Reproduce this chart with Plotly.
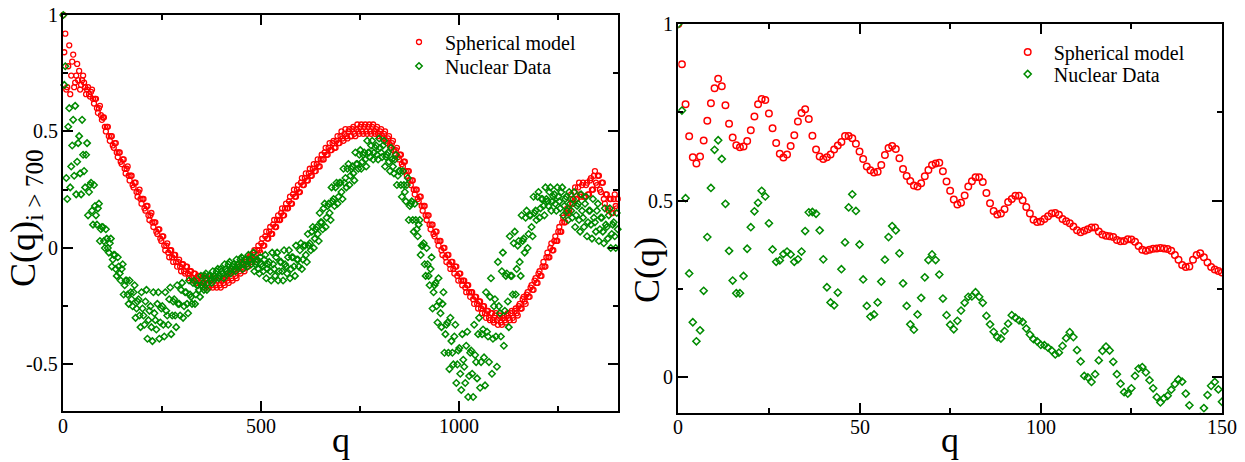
import plotly.graph_objects as go

# ---------------- left panel: C(q) for i > 700 ----------------
# samples on q = 0, 5, ..., 1400 and on the half-way points q = 2.5, 7.5, ..., 1397.5
q_left = list(range(0, 1401, 5))
q_left_mid = [2.5 + 5 * k for k in range(280)]

spherical_left = [
    1.00,
    0.92, 0.69, 0.87, 0.74, 0.83, 0.71, 0.79, 0.76, 0.70, 0.74, 0.69, 0.68,
    0.66, 0.67, 0.64, 0.64, 0.60, 0.60, 0.57, 0.56,
    0.52, 0.52, 0.48, 0.48, 0.44, 0.45, 0.41, 0.41, 0.37, 0.38,
    0.34, 0.34, 0.31, 0.31, 0.27, 0.28, 0.24, 0.24, 0.21, 0.21,
    0.17, 0.18, 0.14, 0.14, 0.11, 0.11, 0.07, 0.08, 0.04, 0.05,
    0.01, 0.01, -0.02, -0.01, -0.04, -0.03, -0.06, -0.06, -0.08, -0.07,
    -0.10, -0.08, -0.11, -0.10, -0.13, -0.11, -0.14, -0.12, -0.15, -0.13,
    -0.15, -0.14, -0.16, -0.14, -0.16, -0.14, -0.16, -0.14, -0.16, -0.14,
    -0.15, -0.13, -0.14, -0.11, -0.13, -0.10, -0.12, -0.09, -0.10, -0.07,
    -0.09, -0.06, -0.07, -0.04, -0.05, -0.02, -0.04, -0.01, -0.01, 0.02,
    0.01, 0.05, 0.04, 0.07, 0.06, 0.10, 0.09, 0.12, 0.12, 0.15,
    0.14, 0.17, 0.17, 0.20, 0.19, 0.23, 0.22, 0.25, 0.24, 0.28,
    0.27, 0.30, 0.29, 0.32, 0.31, 0.34, 0.33, 0.36, 0.35, 0.38,
    0.38, 0.41, 0.40, 0.43, 0.42, 0.45, 0.43, 0.46, 0.45, 0.48,
    0.47, 0.49, 0.48, 0.50, 0.48, 0.51, 0.49, 0.51, 0.50, 0.52,
    0.50, 0.52, 0.50, 0.52, 0.50, 0.52, 0.50, 0.51, 0.49, 0.50,
    0.48, 0.49, 0.46, 0.47, 0.44, 0.45, 0.42, 0.42, 0.39, 0.40,
    0.36, 0.37, 0.33, 0.33, 0.29, 0.29, 0.25, 0.25, 0.21, 0.22,
    0.18, 0.18, 0.14, 0.14, 0.10, 0.10, 0.06, 0.07, 0.03, 0.03,
    -0.01, 0.00, -0.04, -0.03, -0.07, -0.06, -0.09, -0.08, -0.12, -0.11,
    -0.14, -0.14, -0.17, -0.16, -0.19, -0.19, -0.22, -0.21, -0.24, -0.23,
    -0.26, -0.25, -0.28, -0.27, -0.30, -0.28, -0.31, -0.29, -0.31, -0.30,
    -0.32, -0.30, -0.31, -0.29, -0.30, -0.28, -0.30, -0.27, -0.28, -0.25,
    -0.26, -0.22, -0.23, -0.20, -0.21, -0.17, -0.18, -0.14, -0.15, -0.11,
    -0.12, -0.08, -0.08, -0.04, -0.04, 0.00, -0.01, 0.03, 0.03, 0.07,
    0.07, 0.11, 0.11, 0.15, 0.15, 0.21, 0.19, 0.24, 0.21, 0.26,
    0.23, 0.27, 0.22, 0.27, 0.23, 0.29, 0.25, 0.31, 0.28, 0.31,
    0.25, 0.28, 0.21, 0.23, 0.17, 0.21, 0.15, 0.21, 0.18, 0.21,
]

spherical_left_mid = [
    0.84, 0.68, 0.78, 0.66, 0.80, 0.69, 0.74, 0.72, 0.68, 0.72, 0.71, 0.66,
    0.69, 0.65, 0.68, 0.62, 0.64, 0.58, 0.61, 0.55,
    0.56, 0.50, 0.52, 0.46, 0.48, 0.43, 0.45, 0.39, 0.41, 0.36,
    0.38, 0.32, 0.35, 0.29, 0.31, 0.26, 0.28, 0.22, 0.25, 0.19,
    0.21, 0.16, 0.18, 0.12, 0.15, 0.09, 0.11, 0.06, 0.08, 0.03,
    0.05, -0.01, 0.02, -0.04, -0.01, -0.06, -0.03, -0.08, -0.05, -0.10,
    -0.07, -0.11, -0.08, -0.13, -0.10, -0.14, -0.11, -0.15, -0.12, -0.16,
    -0.12, -0.17, -0.13, -0.17, -0.13, -0.17, -0.13, -0.17, -0.13, -0.17,
    -0.13, -0.16, -0.12, -0.15, -0.10, -0.14, -0.09, -0.13, -0.08, -0.11,
    -0.06, -0.10, -0.05, -0.08, -0.03, -0.06, -0.01, -0.05, 0.01, -0.02,
    0.04, 0.01, 0.07, 0.04, 0.09, 0.06, 0.12, 0.09, 0.14, 0.12,
    0.17, 0.14, 0.19, 0.17, 0.22, 0.19, 0.25, 0.22, 0.27, 0.24,
    0.30, 0.27, 0.32, 0.29, 0.34, 0.31, 0.36, 0.33, 0.38, 0.35,
    0.40, 0.38, 0.43, 0.40, 0.45, 0.42, 0.46, 0.43, 0.48, 0.45,
    0.50, 0.46, 0.51, 0.47, 0.51, 0.48, 0.52, 0.48, 0.53, 0.49,
    0.53, 0.49, 0.53, 0.49, 0.53, 0.49, 0.53, 0.49, 0.52, 0.48,
    0.51, 0.47, 0.50, 0.45, 0.48, 0.43, 0.46, 0.40, 0.43, 0.38,
    0.40, 0.35, 0.37, 0.31, 0.33, 0.27, 0.29, 0.23, 0.25, 0.20,
    0.22, 0.16, 0.18, 0.12, 0.14, 0.08, 0.10, 0.05, 0.07, 0.01,
    0.03, -0.03, 0.00, -0.06, -0.03, -0.09, -0.06, -0.11, -0.08, -0.14,
    -0.11, -0.16, -0.14, -0.19, -0.16, -0.21, -0.19, -0.24, -0.21, -0.26,
    -0.23, -0.28, -0.25, -0.30, -0.27, -0.31, -0.28, -0.32, -0.28, -0.33,
    -0.29, -0.33, -0.29, -0.32, -0.28, -0.31, -0.27, -0.31, -0.26, -0.29,
    -0.24, -0.26, -0.21, -0.24, -0.19, -0.21, -0.16, -0.18, -0.13, -0.15,
    -0.10, -0.12, -0.06, -0.08, -0.02, -0.04, 0.02, -0.01, 0.05, 0.03,
    0.09, 0.07, 0.13, 0.11, 0.17, 0.16, 0.23, 0.19, 0.26, 0.21,
    0.28, 0.22, 0.28, 0.22, 0.28, 0.23, 0.30, 0.25, 0.33, 0.27,
    0.31, 0.24, 0.28, 0.19, 0.23, 0.16, 0.21, 0.15, 0.23, 0.17,
]

nuclear_left = [
    1.00,
    0.78, 0.21, 0.60, 0.35, 0.55, 0.61, 0.37, 0.48, 0.23, 0.40, 0.26, 0.45,
    0.24, 0.28, 0.10, 0.18, 0.10, 0.19, 0.08, 0.09,
    0.00, 0.04, -0.02, 0.04, -0.05, -0.03, -0.12, -0.08, -0.14, -0.07,
    -0.16, -0.14, -0.24, -0.19, -0.25, -0.16, -0.26, -0.22, -0.34, -0.26,
    -0.33, -0.18, -0.31, -0.25, -0.40, -0.28, -0.35, -0.19, -0.32, -0.25,
    -0.38, -0.27, -0.33, -0.17, -0.29, -0.22, -0.34, -0.24, -0.29, -0.15,
    -0.25, -0.19, -0.28, -0.20, -0.24, -0.14, -0.20, -0.16, -0.21, -0.16,
    -0.18, -0.11, -0.15, -0.12, -0.15, -0.12, -0.13, -0.09, -0.12, -0.10,
    -0.13, -0.09, -0.11, -0.06, -0.09, -0.07, -0.10, -0.07, -0.08, -0.04,
    -0.07, -0.05, -0.08, -0.05, -0.07, -0.02, -0.07, -0.05, -0.11, -0.07,
    -0.10, -0.03, -0.09, -0.06, -0.14, -0.07, -0.12, -0.02, -0.10, -0.06,
    -0.14, -0.07, -0.11, -0.01, -0.09, -0.04, -0.12, -0.05, -0.08, 0.02,
    -0.05, 0.01, -0.06, 0.01, -0.01, 0.09, 0.04, 0.09, 0.03, 0.11,
    0.08, 0.19, 0.13, 0.19, 0.12, 0.20, 0.18, 0.28, 0.22, 0.28,
    0.21, 0.28, 0.26, 0.36, 0.31, 0.35, 0.29, 0.36, 0.34, 0.42,
    0.37, 0.41, 0.35, 0.41, 0.39, 0.46, 0.41, 0.44, 0.38, 0.43,
    0.39, 0.46, 0.39, 0.41, 0.33, 0.38, 0.32, 0.40, 0.31, 0.33,
    0.22, 0.27, 0.20, 0.30, 0.18, 0.20, 0.07, 0.12, 0.05, 0.12,
    0.01, 0.02, -0.12, -0.07, -0.16, -0.04, -0.19, -0.15, -0.32, -0.23,
    -0.34, -0.19, -0.37, -0.32, -0.52, -0.40, -0.50, -0.33, -0.50, -0.43,
    -0.61, -0.48, -0.58, -0.36, -0.55, -0.44, -0.64, -0.46, -0.56, -0.30,
    -0.49, -0.35, -0.59, -0.36, -0.49, -0.13, -0.39, -0.22, -0.51, -0.25,
    -0.38, -0.02, -0.27, -0.11, -0.34, -0.12, -0.20, 0.07, -0.09, 0.03,
    -0.12, 0.03, -0.02, 0.16, 0.06, 0.14, 0.05, 0.15, 0.12, 0.24,
    0.17, 0.21, 0.14, 0.21, 0.18, 0.26, 0.20, 0.23, 0.16, 0.22,
    0.17, 0.26, 0.18, 0.22, 0.12, 0.19, 0.13, 0.24, 0.14, 0.19,
    0.07, 0.16, 0.09, 0.22, 0.11, 0.16, 0.04, 0.13, 0.07, 0.19,
    0.08, 0.13, 0.02, 0.10, 0.04, 0.17, 0.06, 0.11, 0.00, 0.08,
]

nuclear_left_mid = [
    0.70, 0.30, 0.52, 0.26, 0.44,
    0.31, 0.23, 0.45, 0.32, 0.55,
    0.33, 0.40, 0.14, 0.27, 0.16,
    0.27, 0.14, 0.17, 0.03, 0.09,
    0.03, 0.08, 0.00, 0.02, -0.08,
    -0.03, -0.09, -0.04, -0.11, -0.09,
    -0.20, -0.14, -0.20, -0.14, -0.22,
    -0.19, -0.30, -0.23, -0.29, -0.19,
    -0.29, -0.23, -0.39, -0.27, -0.34,
    -0.19, -0.31, -0.24, -0.39, -0.26,
    -0.33, -0.19, -0.29, -0.22, -0.37,
    -0.23, -0.29, -0.16, -0.24, -0.18,
    -0.30, -0.19, -0.24, -0.14, -0.21,
    -0.15, -0.24, -0.16, -0.18, -0.12,
    -0.15, -0.12, -0.18, -0.12, -0.14,
    -0.10, -0.12, -0.10, -0.13, -0.09,
    -0.11, -0.07, -0.10, -0.07, -0.11,
    -0.08, -0.09, -0.05, -0.07, -0.05,
    -0.09, -0.05, -0.07, -0.03, -0.05,
    -0.04, -0.10, -0.06, -0.09, -0.04,
    -0.08, -0.05, -0.13, -0.07, -0.10,
    -0.02, -0.09, -0.04, -0.14, -0.06,
    -0.10, -0.01, -0.08, -0.04, -0.13,
    -0.04, -0.08, 0.01, -0.05, -0.01,
    -0.09, 0.01, -0.03, 0.06, 0.02,
    0.07, 0.00, 0.08, 0.06, 0.15,
    0.11, 0.17, 0.09, 0.18, 0.15,
    0.26, 0.21, 0.26, 0.19, 0.28,
    0.24, 0.34, 0.30, 0.34, 0.27,
    0.34, 0.32, 0.41, 0.36, 0.40,
    0.34, 0.40, 0.38, 0.46, 0.41,
    0.44, 0.38, 0.43, 0.40, 0.47,
    0.41, 0.44, 0.35, 0.40, 0.37,
    0.43, 0.35, 0.38, 0.27, 0.33,
    0.27, 0.33, 0.24, 0.27, 0.12,
    0.19, 0.12, 0.19, 0.08, 0.10,
    -0.03, 0.01, -0.07, 0.00, -0.12,
    -0.09, -0.26, -0.16, -0.25, -0.13,
    -0.28, -0.24, -0.45, -0.33, -0.45,
    -0.30, -0.45, -0.38, -0.58, -0.44,
    -0.54, -0.37, -0.51, -0.42, -0.64,
    -0.45, -0.54, -0.33, -0.49, -0.37,
    -0.60, -0.37, -0.47, -0.19, -0.38,
    -0.21, -0.54, -0.25, -0.38, -0.06,
    -0.28, -0.10, -0.42, -0.12, -0.23,
    0.05, -0.12, 0.02, -0.20, 0.01,
    -0.06, 0.14, 0.04, 0.13, 0.00,
    0.14, 0.09, 0.22, 0.16, 0.22,
    0.13, 0.21, 0.18, 0.26, 0.20,
    0.24, 0.16, 0.22, 0.19, 0.26,
    0.20, 0.24, 0.14, 0.21, 0.16,
    0.24, 0.16, 0.21, 0.09, 0.18,
    0.12, 0.23, 0.13, 0.19, 0.05,
    0.16, 0.10, 0.21, 0.11, 0.16,
    0.03, 0.13, 0.07, 0.17, 0.09,
    0.14, 0.00, 0.10, 0.05, 0.15,
]

# ---------------- right panel: C(q) for q = 0..150 ----------------
q_right = list(range(0, 151))

spherical_right = [
    1.000,
    0.886, 0.773, 0.682, 0.623, 0.605, 0.625, 0.670, 0.726, 0.776, 0.818,
    0.845, 0.824, 0.770, 0.718, 0.679, 0.657, 0.651, 0.653, 0.669, 0.699,
    0.738, 0.773, 0.788, 0.785, 0.747, 0.705, 0.663, 0.633, 0.622, 0.631,
    0.655, 0.685, 0.724, 0.748, 0.759, 0.731, 0.684, 0.645, 0.625, 0.618,
    0.623, 0.631, 0.645, 0.656, 0.666, 0.683, 0.683, 0.677, 0.661, 0.639,
    0.618, 0.597, 0.586, 0.580, 0.582, 0.601, 0.629, 0.649, 0.655, 0.646,
    0.620, 0.590, 0.570, 0.556, 0.543, 0.540, 0.549, 0.569, 0.587, 0.601,
    0.605, 0.607, 0.583, 0.554, 0.528, 0.503, 0.489, 0.494, 0.515, 0.540,
    0.555, 0.566, 0.566, 0.553, 0.522, 0.493, 0.471, 0.461, 0.464, 0.476,
    0.496, 0.505, 0.514, 0.514, 0.501, 0.482, 0.464, 0.446, 0.440, 0.441,
    0.448, 0.456, 0.464, 0.465, 0.460, 0.448, 0.442, 0.436, 0.427, 0.416,
    0.411, 0.415, 0.419, 0.424, 0.424, 0.413, 0.404, 0.401, 0.399, 0.397,
    0.389, 0.385, 0.386, 0.391, 0.390, 0.384, 0.372, 0.361, 0.358, 0.361,
    0.364, 0.365, 0.366, 0.365, 0.363, 0.358, 0.346, 0.333, 0.318, 0.312,
    0.314, 0.333, 0.346, 0.351, 0.340, 0.325, 0.312, 0.305, 0.301, 0.297,
]

nuclear_right = [
    1.000,
    0.755, 0.507, 0.294, 0.156, 0.102, 0.133, 0.245, 0.397, 0.536, 0.644,
    0.671, 0.618, 0.491, 0.358, 0.274, 0.238, 0.238, 0.287, 0.364, 0.425,
    0.470, 0.494, 0.528, 0.512, 0.436, 0.362, 0.327, 0.331, 0.349, 0.356,
    0.348, 0.327, 0.334, 0.356, 0.414, 0.467, 0.468, 0.463, 0.416, 0.334,
    0.255, 0.212, 0.204, 0.240, 0.306, 0.382, 0.481, 0.518, 0.471, 0.376,
    0.277, 0.202, 0.172, 0.178, 0.212, 0.271, 0.333, 0.397, 0.428, 0.416,
    0.351, 0.266, 0.202, 0.150, 0.135, 0.178, 0.225, 0.283, 0.332, 0.348,
    0.332, 0.291, 0.223, 0.176, 0.149, 0.136, 0.160, 0.189, 0.211, 0.228,
    0.229, 0.241, 0.228, 0.211, 0.174, 0.150, 0.129, 0.114, 0.110, 0.131,
    0.152, 0.176, 0.169, 0.161, 0.157, 0.138, 0.121, 0.108, 0.102, 0.092,
    0.091, 0.084, 0.076, 0.065, 0.070, 0.089, 0.111, 0.128, 0.114, 0.077,
    0.045, 0.004, 0.000, -0.013, 0.009, 0.048, 0.075, 0.087, 0.076, 0.044,
    0.009, -0.018, -0.042, -0.046, -0.031, 0.004, 0.025, 0.029, 0.014, -0.008,
    -0.031, -0.056, -0.071, -0.059, -0.052, -0.035, -0.019, -0.006, -0.012, -0.046,
    -0.079, -0.115, -0.125, -0.112, -0.087, -0.050, -0.024, -0.013, -0.034, -0.069,
]

# tick positions and their labels
left_xticks, left_xlabels = [0, 500, 1000], ["0", "500", "1000"]
left_yticks, left_ylabels = [-0.5, 0, 0.5, 1], ["-0.5", "0", "0.5", "1"]
right_xticks, right_xlabels = [0, 50, 100, 150], ["0", "50", "100", "150"]
right_yticks, right_ylabels = [0, 0.5, 1], ["0", "0.5", "1"]

for name, series, grid in [
    ("spherical_left", spherical_left, q_left),
    ("spherical_left_mid", spherical_left_mid, q_left_mid),
    ("nuclear_left", nuclear_left, q_left),
    ("nuclear_left_mid", nuclear_left_mid, q_left_mid),
    ("spherical_right", spherical_right, q_right),
    ("nuclear_right", nuclear_right, q_right),
]:
    if len(series) != len(grid):
        raise ValueError(f"{name}: {len(series)} values for {len(grid)} q points")

RED = "#ff0000"
GREEN = "#008b00"
SERIF = "Liberation Serif"
W, H = 1245, 462

fig = go.Figure()

# left panel
fig.add_trace(go.Scatter(
    x=q_left + q_left_mid, y=spherical_left + spherical_left_mid,
    mode="markers", name="Spherical model",
    marker=dict(symbol="circle-open", size=5, color=RED, line=dict(width=1.3)),
    xaxis="x", yaxis="y", legend="legend", cliponaxis=False,
))
fig.add_trace(go.Scatter(
    x=q_left + q_left_mid, y=nuclear_left + nuclear_left_mid,
    mode="markers", name="Nuclear Data",
    marker=dict(symbol="diamond-open", size=5, color=GREEN, line=dict(width=1.5)),
    xaxis="x", yaxis="y", legend="legend2", cliponaxis=False,
))

# right panel
fig.add_trace(go.Scatter(
    x=q_right, y=spherical_right, mode="markers", name="Spherical model",
    marker=dict(symbol="circle-open", size=6.5, color=RED, line=dict(width=1.5)),
    xaxis="x2", yaxis="y2", legend="legend3",
))
fig.add_trace(go.Scatter(
    x=q_right, y=nuclear_right, mode="markers", name="Nuclear Data",
    marker=dict(symbol="diamond-open", size=5.5, color=GREEN, line=dict(width=1.5)),
    xaxis="x2", yaxis="y2", legend="legend4",
))


def axis_style(domain, rng, tickvals, minor_vals, **extra):
    style = dict(
        domain=domain, range=rng, showgrid=False, zeroline=False,
        showline=True, linecolor="black", linewidth=2, mirror="ticks",
        ticks="inside", ticklen=10, tickwidth=1.5, tickcolor="black",
        tickmode="array", tickvals=tickvals, showticklabels=False,
        minor=dict(ticks="inside", ticklen=5, tickwidth=1.5, tickcolor="black",
                   tickmode="array", tickvals=minor_vals, showgrid=False),
    )
    style.update(extra)
    return style


def legend_box(x_left, y_mid):
    return dict(x=x_left / W, y=1 - y_mid / H, xanchor="left", yanchor="middle",
                font=dict(family=SERIF, size=20, color="black"), itemwidth=42,
                bgcolor="rgba(0,0,0,0)", borderwidth=0, tracegroupgap=0)


LEFT_BOTTOM, RIGHT_BOTTOM = 411, 412.7

fig.update_layout(
    width=W, height=H, autosize=False,
    margin=dict(l=0, r=0, t=0, b=0),
    paper_bgcolor="white", plot_bgcolor="white",
    font=dict(family=SERIF, color="black"),
    xaxis=axis_style([63.3 / W, 617.7 / W], [0, 1400], left_xticks,
                     [250, 750, 1250], anchor="y"),
    yaxis=axis_style([1 - LEFT_BOTTOM / H, 1 - 15 / H], [-0.7, 1], left_yticks,
                     [-0.25, 0.25, 0.75], anchor="x"),
    xaxis2=axis_style([678.3 / W, 1222 / W], [0, 150], right_xticks,
                      [25, 75, 125], anchor="y2"),
    yaxis2=axis_style([1 - RIGHT_BOTTOM / H, 1 - 24 / H], [-0.1, 1], right_yticks,
                      [0.25, 0.75], anchor="x2"),
    legend=legend_box(393, 42),
    legend2=legend_box(393, 66),
    legend3=legend_box(1001.7, 52),
    legend4=legend_box(1001.7, 74),
    showlegend=True,
)

# tick labels, placed at the tick values of each axis
tick_font = dict(family=SERIF, size=20, color="black")
for v, t in zip(left_xticks, left_xlabels):
    fig.add_annotation(text=t, xref="x", x=v, yref="paper", y=1 - (LEFT_BOTTOM + 14.5) / H,
                       xanchor="center", yanchor="middle", showarrow=False, font=tick_font)
for v, t in zip(right_xticks, right_xlabels):
    fig.add_annotation(text=t, xref="x2", x=v, yref="paper", y=1 - (RIGHT_BOTTOM + 14.5) / H,
                       xanchor="center", yanchor="middle", showarrow=False, font=tick_font)
for v, t in zip(left_yticks, left_ylabels):
    fig.add_annotation(text=t, xref="paper", x=60 / W, yref="y", y=v,
                       xanchor="right", yanchor="middle", showarrow=False, font=tick_font)
for v, t in zip(right_yticks, right_ylabels):
    fig.add_annotation(text=t, xref="paper", x=675 / W, yref="y2", y=v,
                       xanchor="right", yanchor="middle", showarrow=False, font=tick_font)

# axis titles
title_font = dict(family=SERIF, size=36, color="black")
fig.add_annotation(text="C(q)<sub>i &gt; 700</sub>", textangle=-90,
                   xref="paper", yref="paper", x=25 / W, y=1 - 218 / H,
                   xanchor="center", yanchor="middle", showarrow=False, font=title_font)
fig.add_annotation(text="C(q)", textangle=-90,
                   xref="paper", yref="paper", x=647 / W, y=1 - 270 / H,
                   xanchor="center", yanchor="middle", showarrow=False, font=title_font)
fig.add_annotation(text="q", xref="paper", yref="paper", x=341 / W, y=1 - 440 / H,
                   xanchor="center", yanchor="middle", showarrow=False, font=title_font)
fig.add_annotation(text="q", xref="paper", yref="paper", x=950 / W, y=1 - 440 / H,
                   xanchor="center", yanchor="middle", showarrow=False, font=title_font)

fig.write_html("out.html")
